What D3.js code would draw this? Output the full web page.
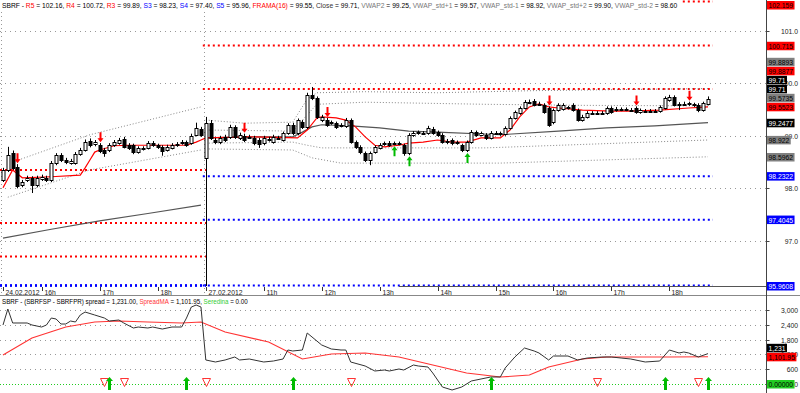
<!DOCTYPE html>
<html>
<head>
<meta charset="utf-8">
<script src="https://cdn.jsdelivr.net/npm/d3@7"></script>
<style>
  body { margin: 0; background: #fff; }
  svg { display: block; font-family: "Liberation Sans", Arial, sans-serif; }
</style>
</head>
<body>
<svg id="chart" width="800" height="393"></svg>
<script>
// 5-minute candles [open, high, low, close], 24.02.2012 15:20 .. 27.02.2012 18:40
const candles = [
  [98.16,98.39,98.12,98.35],[98.35,98.79,98.31,98.63],[98.67,98.72,98.35,98.39],[98.41,98.46,98.00,98.04],
  [98.06,98.16,98.02,98.12],[98.16,98.24,98.12,98.20],[98.20,98.23,97.91,98.06],[98.06,98.24,98.02,98.20],
  [98.18,98.26,98.14,98.22],[98.20,98.24,98.12,98.16],[98.16,98.52,98.12,98.48],[98.48,98.67,98.44,98.63],
  [98.63,98.67,98.50,98.54],[98.54,98.58,98.46,98.50],[98.48,98.56,98.45,98.52],[98.48,98.69,98.45,98.65],
  [98.65,98.77,98.62,98.73],[98.73,98.93,98.70,98.88],[98.90,98.95,98.78,98.82],[98.84,98.92,98.80,98.88],
  [98.82,98.86,98.67,98.71],[98.73,98.77,98.60,98.67],[98.73,98.86,98.69,98.82],[98.82,98.92,98.79,98.88],
  [98.86,98.96,98.83,98.92],[98.94,98.98,98.76,98.79],[98.82,98.86,98.73,98.77],[98.82,98.85,98.65,98.69],
  [98.69,98.80,98.66,98.77],[98.77,98.80,98.72,98.75],[98.77,98.90,98.74,98.86],[98.86,98.90,98.79,98.82],
  [98.82,98.85,98.75,98.79],[98.79,98.82,98.62,98.71],[98.73,98.83,98.70,98.79],[98.77,98.86,98.74,98.82],
  [98.82,98.88,98.79,98.84],[98.86,98.92,98.83,98.88],[98.88,98.91,98.79,98.82],[98.86,99.04,98.83,99.00],
  [99.02,99.25,98.99,99.15],[99.13,99.17,98.98,99.02],
  // 27.02.2012
  [98.58,99.36,96.00,99.24],[99.24,99.30,98.92,98.96],[98.92,98.96,98.84,98.88],[98.88,99.00,98.84,98.96],
  [98.98,99.02,98.88,98.92],[98.98,99.21,98.94,99.17],[99.17,99.20,98.94,98.98],[98.96,99.06,98.92,99.02],
  [99.00,99.04,98.88,98.92],[98.97,99.02,98.94,98.98],[98.96,99.00,98.82,98.86],[98.92,98.96,98.77,98.84],
  [98.86,99.00,98.82,98.96],[98.92,98.98,98.89,98.94],[98.88,99.02,98.85,98.98],[98.96,99.00,98.92,98.95],
  [98.92,99.08,98.89,99.05],[99.05,99.24,99.02,99.21],[99.21,99.25,99.01,99.05],[99.05,99.33,99.01,99.30],
  [99.26,99.30,99.13,99.17],[99.17,99.82,99.13,99.78],[99.78,99.93,99.68,99.72],[99.72,99.75,99.32,99.36],
  [99.30,99.40,99.26,99.36],[99.30,99.34,99.17,99.21],[99.24,99.29,99.21,99.26],[99.24,99.27,99.13,99.17],
  [99.19,99.24,99.16,99.21],[99.19,99.34,99.15,99.30],[99.30,99.33,98.85,98.88],[98.88,98.91,98.75,98.79],
  [98.79,98.82,98.65,98.69],[98.67,98.70,98.50,98.54],[98.54,98.70,98.44,98.67],[98.69,98.82,98.66,98.79],
  [98.77,98.86,98.74,98.82],[98.84,98.89,98.81,98.86],[98.86,98.90,98.79,98.82],[98.85,98.89,98.82,98.86],
  [98.86,98.89,98.82,98.85],[98.82,98.85,98.62,98.67],[98.67,99.05,98.63,99.02],[99.02,99.09,98.98,99.05],
  [99.05,99.10,99.02,99.07],[99.06,99.09,99.02,99.05],[99.05,99.19,99.02,99.15],[99.13,99.17,99.02,99.05],
  [99.07,99.10,98.98,99.02],[99.02,99.05,98.85,98.88],[98.88,98.94,98.84,98.90],[98.92,98.95,98.82,98.86],
  [98.86,98.91,98.83,98.88],[98.82,98.85,98.69,98.73],[98.73,98.91,98.69,98.88],[98.88,99.11,98.85,99.07],
  [99.07,99.10,98.98,99.02],[99.02,99.08,98.99,99.05],[99.02,99.05,98.92,98.96],[98.96,99.09,98.93,99.05],
  [99.05,99.09,99.02,99.06],[99.05,99.08,99.00,99.03],[99.03,99.18,99.00,99.15],[99.15,99.37,99.12,99.34],
  [99.34,99.48,99.31,99.45],[99.43,99.56,99.40,99.53],[99.53,99.68,99.50,99.64],[99.64,99.69,99.61,99.65],
  [99.66,99.70,99.56,99.59],[99.60,99.65,99.57,99.61],[99.59,99.62,99.42,99.45],[99.53,99.56,99.17,99.21],
  [99.26,99.52,99.22,99.49],[99.49,99.62,99.46,99.59],[99.51,99.62,99.48,99.59],[99.54,99.57,99.50,99.53],
  [99.59,99.62,99.46,99.49],[99.49,99.52,99.27,99.30],[99.30,99.40,99.27,99.36],[99.36,99.47,99.33,99.43],
  [99.43,99.47,99.40,99.44],[99.44,99.47,99.40,99.43],[99.43,99.47,99.40,99.44],[99.43,99.56,99.40,99.53],
  [99.53,99.56,99.42,99.45],[99.49,99.55,99.46,99.51],[99.51,99.54,99.47,99.50],[99.50,99.54,99.47,99.51],
  [99.50,99.53,99.46,99.49],[99.53,99.56,99.42,99.45],[99.45,99.52,99.42,99.49],[99.47,99.51,99.44,99.48],
  [99.48,99.51,99.44,99.47],[99.47,99.51,99.44,99.48],[99.47,99.58,99.44,99.55],[99.53,99.75,99.50,99.72],
  [99.68,99.78,99.65,99.74],[99.74,99.77,99.56,99.59],[99.59,99.64,99.49,99.60],[99.60,99.65,99.57,99.61],
  [99.62,99.65,99.57,99.60],[99.60,99.63,99.55,99.59],[99.59,99.62,99.45,99.49],[99.49,99.65,99.46,99.62],
  [99.62,99.75,99.58,99.71]
];
const dayStart = [0, 42];

const tickBars = [0, 8, 20, 32, 42, 54, 66, 78, 90, 102, 114, 126, 138];
const tickLabels = ["24.02.2012", "16h", "17h", "18h", "27.02.2012", "11h", "12h", "13h", "14h", "15h", "16h", "17h", "18h"];
const priceTicks = [97, 98, 99, 100, 101];

// pivot levels per day
const day1Resist = [98.35, 97.34, 96.70];
const day1Support = [95.80, 95.50, 95.20];
const day2Resist = [102.16, 100.72, 99.89];
const day2Support = [98.23, 97.40, 95.96];

// [bar, value] readings
const frama = [[0,98.01],[2,98.35],[4,98.20],[10,98.22],[16,98.25],[17,98.39],[18,98.54],[19,98.69],[20,98.73],
  [23,98.81],[26,98.82],[38,98.82],[40,98.88],[41,98.92],[42,98.96],[51,98.98],[61,98.96],[63,99.11],[65,99.34],
  [66,99.36],[69,99.34],[71,99.30],[73,99.17],[75,98.98],[77,98.82],[79,98.79],[82,98.82],[84,98.86],[87,98.88],
  [90,98.92],[93,98.88],[96,98.88],[99,98.96],[103,98.96],[105,99.11],[107,99.36],[109,99.55],[111,99.61],
  [113,99.55],[115,99.53],[120,99.49],[126,99.47],[130,99.47],[136,99.49],[142,99.53],[146,99.55]];
const vwapDay1 = [[0,97.05],[10,97.22],[20,97.38],[30,97.52],[41,97.68]];
const vwapDay2 = [[42,98.96],[50,98.98],[60,98.98],[62,99.07],[64,99.17],[66,99.21],[72,99.19],[78,99.15],
  [84,99.09],[90,99.07],[103,99.02],[115,99.09],[125,99.15],[135,99.19],[146,99.25]];
const day1Upper = [[2,98.50],[18,99.02],[41,99.55]];
const day1Lower = [[1,97.83],[18,98.35],[41,98.73]];
const stdPlus2 = [[42,99.30],[50,99.24],[60,99.26],[63,99.70],[65,99.82],[75,99.84],[90,99.82],[110,99.86],[146,99.90]];
const stdPlus1 = [[42,99.11],[60,99.09],[63,99.40],[65,99.60],[75,99.64],[100,99.60],[120,99.58],[146,99.57]];
const stdMinus1 = [[42,98.86],[60,98.88],[63,98.82],[66,98.77],[100,98.77],[146,98.92]];
const stdMinus2 = [[42,98.75],[60,98.73],[64,98.58],[70,98.48],[103,98.48],[146,98.60]];

const sellBars = [3, 20, 50, 67, 113, 131, 142];
const buyBars = [81, 84, 96];

const legendNames = ["R5", "R4", "R3", "S3", "S4", "S5", "FRAMA(16)", "Close", "VWAP2", "VWAP_std+1", "VWAP_std-1", "VWAP_std+2", "VWAP_std-2"];
const legendValues = ["102.16", "100.72", "99.89", "98.23", "97.40", "95.96", "99.55", "99.71", "99.25", "99.57", "98.92", "99.90", "98.60"];

const priceLabels = [["102.159","r"],["100.715","r"],["99.8893","g"],["99.8877","r"],["99.71","k"],["99.71","k"],
  ["99.5735","g"],["99.5523","r"],["99.2477","k"],["98.922","g"],["98.5962","g"],["98.2322","b"],["97.4045","b"],["95.9608","b"]];

// lower panel: spread and its moving average, [bar, value]
const spread = [[0,2392],[1,3040],[2,2473],[5,2473],[6,2392],[8,2310],[9,2392],[10,2675],[11,2635],[12,2432],
  [13,2432],[14,2554],[15,2513],[16,2797],[17,2918],[19,2797],[21,2675],[22,2554],[24,2594],[25,2473],[27,2270],
  [28,2310],[30,2270],[31,2310],[33,2229],[35,2310],[37,2310],[38,2675],[39,3121],[40,3202],[41,3121],[42,973],
  [44,892],[46,973],[48,1094],[49,973],[51,1013],[54,892],[56,932],[58,1013],[59,1378],[60,1338],[62,1378],
  [63,2067],[66,1581],[68,1419],[70,1378],[71,1378],[72,892],[75,730],[77,527],[79,567],[80,527],[82,608],
  [83,567],[85,770],[86,730],[88,689],[89,446],[91,-122],[93,-243],[95,-122],[97,122],[99,203],[101,284],
  [103,284],[104,649],[106,1094],[108,1459],[110,1338],[111,1257],[113,973],[114,1135],[117,1135],[119,973],
  [121,1054],[124,1094],[126,1094],[128,1054],[130,1013],[133,892],[136,932],[138,1378],[140,1257],[141,1297],
  [142,1257],[144,1094],[146,1231]];
const spreadMA = [[0,1176],[6,1865],[13,2310],[19,2513],[24,2554],[30,2513],[37,2473],[41,2513],[46,2108],
  [55,1702],[62,1013],[68,1216],[75,1257],[82,1094],[89,770],[96,446],[103,284],[109,365],[113,689],[120,1013],
  [125,1094],[130,1094],[138,1094],[146,1102]];
const spreadTicks = [0, 600, 1200, 1800, 2400, 3000];
const spreadTickLabels = ["0", "600", "1,200", "1,800", "2,400", "3,000"];
const spreadSell = [21, 25, 42, 72, 123, 144];
const spreadBuy = [22, 38, 60, 101, 137, 146];
const spreadLabels = [["1,231",1231,"k"],["1,101.95",1101.95,"r"],["0.00000",0,"n"]];

// ---------------------------------------------------------------
const svg = d3.select('#chart');
const W = 800, axisX = 766.5;
const topBottom = 286, botTop = 296, botBottom = 393;
const squeeze = 0.85;   // the original uses a narrow screen font

const x = d3.scaleLinear().domain([0, candles.length - 1]).range([3, 708]);
const y = d3.scaleLinear().domain([97, 101]).range([240.8, 30.8]);
const y2 = d3.scaleLinear().domain([0, 3000]).range([384, 310]);
const clampY = v => Math.max(1.5, Math.min(topBottom - 0.5, y(v)));
const px = i => Math.round(x(i));

const labelColors = { r: ['#ff0000', '#000'], g: ['#808080', '#000'], k: ['#000', '#fff'], b: ['#0000ff', '#fff'], n: ['#22cc22', '#000'] };

// narrow text helper: text at (tx, ty) squeezed horizontally
function narrowText(parent, tx, ty, str, anchor) {
  return parent.append('text')
    .attr('transform', `translate(${tx},${ty}) scale(${squeeze},1)`)
    .attr('text-anchor', anchor || 'start')
    .attr('font-size', 8).text(str);
}

const pricePanel = svg.append('g');

// grid
pricePanel.selectAll('line.grid').data(priceTicks).join('line')
  .attr('x1', 0).attr('x2', axisX).attr('y1', d => Math.round(y(d)) + 0.5).attr('y2', d => Math.round(y(d)) + 0.5)
  .attr('stroke', '#999').attr('stroke-dasharray', '1,4');
pricePanel.selectAll('line.day').data(dayStart).join('line')
  .attr('x1', d => px(d) - 1.5).attr('x2', d => px(d) - 1.5).attr('y1', 0).attr('y2', botTop)
  .attr('stroke', '#999').attr('stroke-dasharray', '1,3');

// pivot levels
function pivot(levels, from, to, color) {
  pricePanel.append('g').selectAll('line').data(levels).join('line')
    .attr('x1', x(from) - 3).attr('x2', x(to) + 5)
    .attr('y1', d => clampY(d)).attr('y2', d => clampY(d))
    .attr('stroke', color).attr('stroke-width', 2).attr('stroke-dasharray', '2,3');
}
pivot(day1Resist, 0, 41, '#ff0000');
pivot(day1Support, 0, 41, '#0000ff');
pivot(day2Resist, 42, candles.length - 1, '#ff0000');
pivot(day2Support, 42, candles.length - 1, '#0000ff');

// VWAP bands and lines
const line = d3.line().x(d => x(d[0])).y(d => y(d[1]));
[day1Upper, day1Lower, stdPlus2, stdPlus1, stdMinus1, stdMinus2].forEach(s => {
  pricePanel.append('path').attr('d', line(s)).attr('fill', 'none').attr('stroke', '#888').attr('stroke-dasharray', '1,2');
});
[vwapDay1, vwapDay2].forEach(s => {
  pricePanel.append('path').attr('d', line(s)).attr('fill', 'none').attr('stroke', '#555').attr('stroke-width', 1.2);
});
pricePanel.append('path').attr('d', line(frama)).attr('fill', 'none').attr('stroke', '#ff0000').attr('stroke-width', 1.2);

// candles
const cg = pricePanel.append('g');
cg.selectAll('line').data(candles).join('line')
  .attr('x1', (d, i) => px(i) + 0.5).attr('x2', (d, i) => px(i) + 0.5)
  .attr('y1', d => Math.max(0, y(d[1]))).attr('y2', d => Math.min(topBottom, y(d[2])))
  .attr('stroke', '#000');
cg.selectAll('rect').data(candles).join('rect')
  .attr('x', (d, i) => px(i) - 1)
  .attr('y', d => Math.round(y(Math.max(d[0], d[3]))) + 0.5)
  .attr('width', 3)
  .attr('height', d => Math.max(1, Math.round(y(Math.min(d[0], d[3])) - y(Math.max(d[0], d[3])))))
  .attr('fill', d => d[3] >= d[0] ? '#fff' : '#000')
  .attr('stroke', '#000');

// signals
pricePanel.selectAll('path.sell').data(sellBars).join('path')
  .attr('d', i => { const cx = px(i) + 0.5, t = y(candles[i][1]) - 1;
    return `M${cx - 1},${t - 10}h2v6h2l-3,4l-3,-4h2z`; })
  .attr('fill', '#ff0000');
pricePanel.selectAll('path.buy').data(buyBars).join('path')
  .attr('d', i => { const cx = px(i) + 0.5, t = y(candles[i][2]) + 1;
    return `M${cx - 1},${t + 10}h2v-6h2l-3,-4l-3,4h2z`; })
  .attr('fill', '#00bb00');

// x axis
pricePanel.append('line').attr('x1', x(82)).attr('x2', axisX).attr('y1', topBottom + 0.5).attr('y2', topBottom + 0.5).attr('stroke', '#555');
const xt = pricePanel.append('g').attr('fill', '#222');
xt.selectAll('line').data(tickBars).join('line')
  .attr('x1', d => px(d) + 0.5).attr('x2', d => px(d) + 0.5).attr('y1', topBottom + 1).attr('y2', topBottom + 5)
  .attr('stroke', '#333');
tickBars.forEach((b, i) => narrowText(xt, px(b) + 2.5, topBottom + 8.5, tickLabels[i]));

svg.append('line').attr('x1', 0).attr('x2', W).attr('y1', botTop - 0.5).attr('y2', botTop - 0.5).attr('stroke', '#888');

// legend with a white backing, fitted to the width the original uses
const legG = pricePanel.append('g');
const legBg = legG.append('rect').attr('x', 0).attr('y', 0).attr('height', 10).attr('fill', '#fff');
const leg = legG.append('text').attr('font-size', 8).attr('fill', '#000');
leg.append('tspan').text('SBRF - ');
const nameColor = n => /^R|FRAMA/.test(n) ? '#ff0000' : /^S/.test(n) ? '#0000ff' : n === 'Close' ? '#333' : '#777';
legendNames.forEach((n, i) => {
  leg.append('tspan').attr('fill', nameColor(n)).text(n);
  leg.append('tspan').text(' = ' + legendValues[i] + (i < legendNames.length - 1 ? ', ' : ''));
});
const legK = 676 / leg.node().getComputedTextLength();
leg.attr('transform', `translate(2,8) scale(${legK},1)`);
legBg.attr('width', 680);

// right axis (top)
svg.append('line').attr('x1', axisX).attr('x2', axisX).attr('y1', 0).attr('y2', botBottom).attr('stroke', '#444');
const ra = svg.append('g').attr('fill', '#222');
priceTicks.forEach(d => narrowText(ra, 798, y(d) + 3, d.toFixed(1), 'end'));
ra.selectAll('line').data(priceTicks).join('line')
  .attr('x1', axisX).attr('x2', axisX + 3).attr('y1', d => Math.round(y(d)) + 0.5).attr('y2', d => Math.round(y(d)) + 0.5)
  .attr('stroke', '#444');

function stackLabels(items, yOf, minY, maxY) {
  const placed = items.map(d => ({ d, y: Math.max(minY, Math.min(maxY, yOf(d))) }))
    .sort((a, b) => b.y - a.y);
  let prev = Infinity;
  placed.forEach(p => { p.y = Math.min(p.y, prev - 9); prev = p.y; });
  return placed;
}
function drawLabels(placed, textOf, kindOf) {
  const g = svg.append('g');
  placed.forEach(p => {
    const [bg, fg] = labelColors[kindOf(p.d)];
    const t = narrowText(g, axisX + 2, p.y + 3, textOf(p.d)).attr('fill', fg);
    const w = t.node().getComputedTextLength() * squeeze;
    g.insert('rect', () => t.node()).attr('x', axisX + 0.5).attr('y', p.y - 4).attr('width', w + 3).attr('height', 8.5).attr('fill', bg);
  });
}
drawLabels(stackLabels(priceLabels, d => y(+d[0]), 5, topBottom), d => d[0], d => d[1]);

// ---- lower panel
const bot = svg.append('g');
bot.selectAll('line.grid').data(spreadTicks.slice(1)).join('line')
  .attr('x1', 0).attr('x2', axisX).attr('y1', d => Math.round(y2(d)) + 0.5).attr('y2', d => Math.round(y2(d)) + 0.5)
  .attr('stroke', '#999').attr('stroke-dasharray', '1,4');
bot.append('line').attr('x1', 0).attr('x2', axisX).attr('y1', Math.round(y2(0)) + 0.5).attr('y2', Math.round(y2(0)) + 0.5)
  .attr('stroke', '#22cc22').attr('stroke-dasharray', '1,2');
const line2 = d3.line().x(d => x(d[0])).y(d => y2(d[1]));
bot.append('path').attr('d', line2(spreadMA)).attr('fill', 'none').attr('stroke', '#ff3333').attr('stroke-width', 1.1);
bot.append('path').attr('d', line2(spread)).attr('fill', 'none').attr('stroke', '#333').attr('stroke-width', 1);

bot.selectAll('path.ss').data(spreadSell).join('path')
  .attr('d', i => { const cx = px(i) + 0.5, t = y2(0) - 5.5; return `M${cx - 4},${t}h8l-4,8z`; })
  .attr('fill', 'none').attr('stroke', '#ff3333');
bot.selectAll('path.sb').data(spreadBuy).join('path')
  .attr('d', i => { const cx = px(i) + 0.5, t = y2(0) - 7; return `M${cx},${t}l3.5,4h-2v9h-3v-9h-2z`; })
  .attr('fill', '#00bb00');

const leg2 = bot.append('text').attr('font-size', 8).attr('fill', '#000');
leg2.append('tspan').text('SBRF - (SBRFSP - SBRFPR) spread = 1,231.00, ');
leg2.append('tspan').attr('fill', '#ff3333').text('SpreadMA');
leg2.append('tspan').text(' = 1,101.95, ');
leg2.append('tspan').attr('fill', '#33cc33').text('Seredina');
leg2.append('tspan').text(' = 0.00');
const leg2K = 246 / leg2.node().getComputedTextLength();
leg2.attr('transform', `translate(2,${botTop + 8}) scale(${leg2K},1)`);

const ra2 = svg.append('g').attr('fill', '#222');
spreadTicks.forEach((d, i) => narrowText(ra2, 798, y2(d) + 3, spreadTickLabels[i], 'end'));
ra2.selectAll('line').data(spreadTicks).join('line')
  .attr('x1', axisX).attr('x2', axisX + 3).attr('y1', d => Math.round(y2(d)) + 0.5).attr('y2', d => Math.round(y2(d)) + 0.5)
  .attr('stroke', '#444');
drawLabels(stackLabels(spreadLabels, d => y2(d[1]), botTop + 5, botBottom - 4), d => d[0], d => d[2]);
</script>
</body>
</html>
